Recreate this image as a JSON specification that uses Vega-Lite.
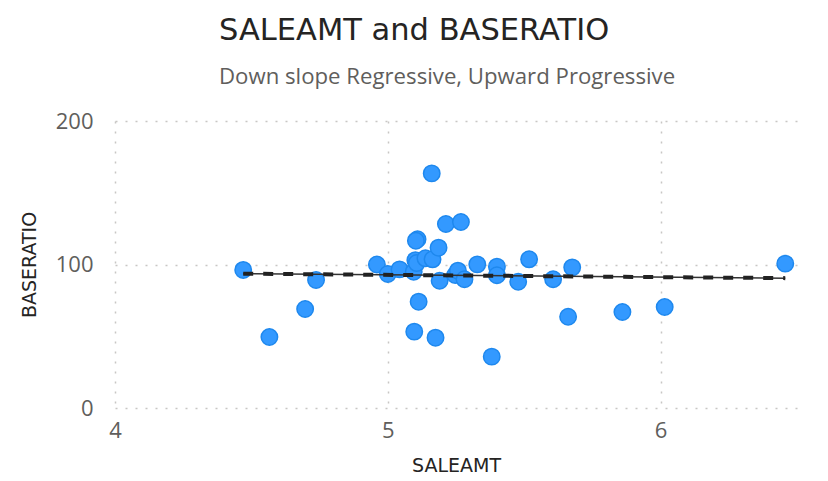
{
  "$schema": "https://vega.github.io/schema/vega-lite/v6.json",
  "autosize": {"type": "none"},
  "width": 682,
  "height": 287,
  "padding": {"left": 115, "top": 121, "right": 31, "bottom": 73},
  "background": "white",
  "title": {
    "text": "SALEAMT and BASERATIO",
    "subtitle": "Down slope Regressive, Upward Progressive",
    "anchor": "start",
    "frame": "group",
    "dx": 104,
    "offset": 22,
    "font": "DejaVu Sans",
    "fontSize": 30.5,
    "fontWeight": "normal",
    "color": "#252423",
    "subtitleFont": "Open Sans",
    "subtitleFontSize": 22.2,
    "subtitleColor": "#605E5C",
    "subtitlePadding": 19
  },
  "data": {
    "values": [
      {"SALEAMT": 4.47, "BASERATIO": 96.2},
      {"SALEAMT": 4.566, "BASERATIO": 49.5},
      {"SALEAMT": 4.697, "BASERATIO": 69},
      {"SALEAMT": 4.737, "BASERATIO": 89.2},
      {"SALEAMT": 4.96, "BASERATIO": 100},
      {"SALEAMT": 5.0, "BASERATIO": 93.4},
      {"SALEAMT": 5.043, "BASERATIO": 96.6},
      {"SALEAMT": 5.095, "BASERATIO": 95},
      {"SALEAMT": 5.101, "BASERATIO": 103},
      {"SALEAMT": 5.106, "BASERATIO": 101},
      {"SALEAMT": 5.109, "BASERATIO": 117.6},
      {"SALEAMT": 5.103, "BASERATIO": 116.6},
      {"SALEAMT": 5.113, "BASERATIO": 74.1},
      {"SALEAMT": 5.097, "BASERATIO": 53.2},
      {"SALEAMT": 5.138, "BASERATIO": 104.3},
      {"SALEAMT": 5.161, "BASERATIO": 163.5},
      {"SALEAMT": 5.164, "BASERATIO": 103.6},
      {"SALEAMT": 5.175, "BASERATIO": 49},
      {"SALEAMT": 5.186, "BASERATIO": 111.7},
      {"SALEAMT": 5.19, "BASERATIO": 88.7},
      {"SALEAMT": 5.213, "BASERATIO": 128.2},
      {"SALEAMT": 5.247, "BASERATIO": 92.7},
      {"SALEAMT": 5.257, "BASERATIO": 95.7},
      {"SALEAMT": 5.268, "BASERATIO": 129.6},
      {"SALEAMT": 5.281, "BASERATIO": 89.7},
      {"SALEAMT": 5.328, "BASERATIO": 100.1},
      {"SALEAMT": 5.381, "BASERATIO": 35.8},
      {"SALEAMT": 5.4, "BASERATIO": 98.5},
      {"SALEAMT": 5.4, "BASERATIO": 92.5},
      {"SALEAMT": 5.478, "BASERATIO": 88},
      {"SALEAMT": 5.518, "BASERATIO": 103.6},
      {"SALEAMT": 5.606, "BASERATIO": 89.7},
      {"SALEAMT": 5.661, "BASERATIO": 63.6},
      {"SALEAMT": 5.676, "BASERATIO": 98},
      {"SALEAMT": 5.86, "BASERATIO": 66.9},
      {"SALEAMT": 6.015, "BASERATIO": 70.4},
      {"SALEAMT": 6.457, "BASERATIO": 100.6}
    ]
  },
  "encoding": {
    "x": {
      "field": "SALEAMT",
      "type": "quantitative",
      "scale": {"domain": [4, 6.5], "nice": false, "zero": false},
      "axis": {
        "values": [4, 5, 6],
        "title": "SALEAMT",
        "domain": false,
        "ticks": false,
        "labelFlush": false,
        "grid": true,
        "gridDash": [2, 8],
        "gridColor": "#C8C6C4",
        "gridWidth": 1.5,
        "labelFont": "Open Sans",
        "labelFontSize": 22,
        "labelColor": "#605E5C",
        "labelPadding": 12,
        "titleFont": "DejaVu Sans",
        "titleFontSize": 19,
        "titleFontWeight": "normal",
        "titleColor": "#252423",
        "titlePadding": 15
      }
    },
    "y": {
      "field": "BASERATIO",
      "type": "quantitative",
      "scale": {"domain": [0, 200], "nice": false},
      "axis": {
        "values": [0, 100, 200],
        "title": "BASERATIO",
        "domain": false,
        "ticks": false,
        "labelFlush": false,
        "grid": true,
        "gridDash": [2, 8],
        "gridColor": "#C8C6C4",
        "gridWidth": 1.5,
        "labelFont": "Open Sans",
        "labelFontSize": 22,
        "labelColor": "#605E5C",
        "labelPadding": 22,
        "titleFont": "DejaVu Sans",
        "titleFontSize": 19,
        "titleFontWeight": "normal",
        "titleColor": "#252423",
        "titlePadding": 16
      }
    }
  },
  "layer": [
    {
      "mark": {"type": "point", "filled": true, "size": 270, "color": "#3399FF", "opacity": 1, "stroke": "#1E88EE", "strokeWidth": 1.5}
    },
    {
      "transform": [{"regression": "BASERATIO", "on": "SALEAMT"}],
      "mark": {"type": "line", "color": "#333333", "strokeWidth": 1.5},
      "encoding": {}
    },
    {
      "transform": [{"regression": "BASERATIO", "on": "SALEAMT"}],
      "mark": {"type": "line", "color": "#222222", "strokeWidth": 4, "strokeDash": [10, 10]},
      "encoding": {}
    }
  ],
  "config": {"view": {"stroke": null}}
}
